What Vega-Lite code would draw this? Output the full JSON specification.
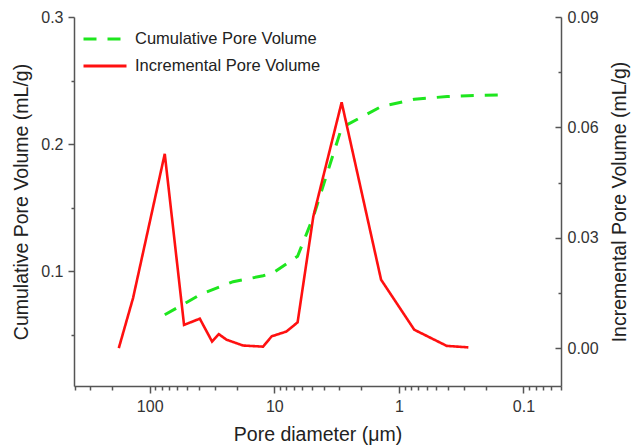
{
  "$schema": "https://vega.github.io/schema/vega-lite/v6.json",
  "width": 487,
  "height": 369,
  "autosize": "none",
  "padding": {"left": 74, "top": 17, "right": 70, "bottom": 62},
  "background": "white",
  "config": {
    "view": {"stroke": null},
    "font": "Liberation Sans",
    "axis": {
      "domainColor": "#555555",
      "domainWidth": 1.5,
      "tickColor": "#555555",
      "tickWidth": 1.5,
      "labelFont": "Liberation Sans",
      "labelFontSize": 16,
      "labelColor": "#333333",
      "titleFont": "Liberation Sans",
      "titleFontSize": 19.5,
      "titleFontWeight": "normal",
      "titleColor": "#222222",
      "grid": false,
      "labelOverlap": false
    }
  },
  "data": {
    "values": [
      {"d": 75.7, "v": 0.066, "s": "Cumulative Pore Volume"},
      {"d": 53, "v": 0.0745, "s": "Cumulative Pore Volume"},
      {"d": 39.6, "v": 0.0817, "s": "Cumulative Pore Volume"},
      {"d": 21.4, "v": 0.092, "s": "Cumulative Pore Volume"},
      {"d": 12.3, "v": 0.0966, "s": "Cumulative Pore Volume"},
      {"d": 10.2, "v": 0.099, "s": "Cumulative Pore Volume"},
      {"d": 6.5, "v": 0.112, "s": "Cumulative Pore Volume"},
      {"d": 4.86, "v": 0.143, "s": "Cumulative Pore Volume"},
      {"d": 2.88, "v": 0.213, "s": "Cumulative Pore Volume"},
      {"d": 1.39, "v": 0.2296, "s": "Cumulative Pore Volume"},
      {"d": 0.75, "v": 0.2354, "s": "Cumulative Pore Volume"},
      {"d": 0.41, "v": 0.2375, "s": "Cumulative Pore Volume"},
      {"d": 0.28, "v": 0.2382, "s": "Cumulative Pore Volume"},
      {"d": 0.155, "v": 0.2388, "s": "Cumulative Pore Volume"},
      {"d": 177, "v": 0.0, "s": "Incremental Pore Volume"},
      {"d": 136, "v": 0.0136, "s": "Incremental Pore Volume"},
      {"d": 75.7, "v": 0.0528, "s": "Incremental Pore Volume"},
      {"d": 53, "v": 0.0063, "s": "Incremental Pore Volume"},
      {"d": 39.6, "v": 0.008, "s": "Incremental Pore Volume"},
      {"d": 31.6, "v": 0.0018, "s": "Incremental Pore Volume"},
      {"d": 27.9, "v": 0.0038, "s": "Incremental Pore Volume"},
      {"d": 24.2, "v": 0.0023, "s": "Incremental Pore Volume"},
      {"d": 17.8, "v": 0.0007, "s": "Incremental Pore Volume"},
      {"d": 12.3, "v": 0.0004, "s": "Incremental Pore Volume"},
      {"d": 10.5, "v": 0.0032, "s": "Incremental Pore Volume"},
      {"d": 8.0, "v": 0.0045, "s": "Incremental Pore Volume"},
      {"d": 6.5, "v": 0.007, "s": "Incremental Pore Volume"},
      {"d": 4.86, "v": 0.0358, "s": "Incremental Pore Volume"},
      {"d": 2.88, "v": 0.0668, "s": "Incremental Pore Volume"},
      {"d": 1.39, "v": 0.0186, "s": "Incremental Pore Volume"},
      {"d": 0.753, "v": 0.005, "s": "Incremental Pore Volume"},
      {"d": 0.413, "v": 0.0006, "s": "Incremental Pore Volume"},
      {"d": 0.277, "v": 0.0002, "s": "Incremental Pore Volume"}
    ]
  },
  "encoding": {
    "x": {
      "field": "d",
      "type": "quantitative",
      "scale": {"type": "log", "domain": [0.05, 405], "reverse": true, "nice": false},
      "axis": {
        "title": "Pore diameter (μm)",
        "values": [400, 300, 200, 100, 90, 80, 70, 60, 50, 40, 30, 20, 10, 9, 8, 7, 6, 5, 4, 3, 2, 1, 0.9, 0.8, 0.7, 0.6, 0.5, 0.4, 0.3, 0.2, 0.1, 0.09, 0.08, 0.07, 0.06, 0.05],
        "labelExpr": "datum.value == 100 ? '100' : datum.value == 10 ? '10' : datum.value == 1 ? '1' : datum.value == 0.1 ? '0.1' : ''",
        "tickSize": {"condition": {"test": "datum.value == 100 || datum.value == 10 || datum.value == 1 || datum.value == 0.1", "value": 7}, "value": 4},
        "labelPadding": 5,
        "titlePadding": 11
      }
    },
    "color": {
      "field": "s",
      "type": "nominal",
      "scale": {"domain": ["Cumulative Pore Volume", "Incremental Pore Volume"], "range": ["#1ee61e", "#ff1010"]},
      "legend": {
        "orient": "none",
        "legendX": 8,
        "legendY": 12,
        "title": null,
        "padding": 0,
        "symbolType": "stroke",
        "symbolSize": 1849,
        "symbolStrokeWidth": 3,
        "labelFont": "Liberation Sans",
        "labelFontSize": 16.5,
        "labelColor": "#222222",
        "labelLimit": 400,
        "clipHeight": 20,
        "rowPadding": 7,
        "labelOffset": 7
      }
    },
    "strokeDash": {
      "field": "s",
      "type": "nominal",
      "scale": {"domain": ["Cumulative Pore Volume", "Incremental Pore Volume"], "range": [[13, 11], [1, 0]]},
      "legend": {
        "orient": "none",
        "legendX": 8,
        "legendY": 12,
        "title": null,
        "padding": 0,
        "symbolType": "stroke",
        "symbolSize": 1849,
        "symbolStrokeWidth": 3,
        "labelFont": "Liberation Sans",
        "labelFontSize": 16.5,
        "labelColor": "#222222",
        "labelLimit": 400,
        "clipHeight": 20,
        "rowPadding": 7,
        "labelOffset": 7
      }
    }
  },
  "layer": [
    {
      "transform": [{"filter": "datum.s == 'Cumulative Pore Volume'"}],
      "mark": {"type": "line", "strokeWidth": 3},
      "encoding": {
        "y": {
          "field": "v",
          "type": "quantitative",
          "scale": {"domain": [0.01, 0.3], "nice": false, "zero": false},
          "axis": {
            "orient": "left",
            "title": "Cumulative Pore Volume (mL/g)",
            "values": [0.05, 0.1, 0.15, 0.2, 0.25, 0.3],
            "format": ".1f",
            "labelExpr": "indexof([0.1, 0.2, 0.3], datum.value) >= 0 ? datum.label : ''",
            "tickSize": {"condition": {"test": "indexof([0.1, 0.2, 0.3], datum.value) >= 0", "value": 6}, "value": 3},
            "labelPadding": 5,
            "titlePadding": 9
          }
        }
      }
    },
    {
      "transform": [{"filter": "datum.s == 'Incremental Pore Volume'"}],
      "mark": {"type": "line", "strokeWidth": 2.6},
      "encoding": {
        "y": {
          "field": "v",
          "type": "quantitative",
          "scale": {"domain": [-0.0103, 0.09], "nice": false, "zero": false},
          "axis": {
            "orient": "right",
            "title": "Incremental Pore Volume (mL/g)",
            "titleAngle": 270,
            "titleBaseline": "top",
            "values": [0, 0.015, 0.03, 0.045, 0.06, 0.075, 0.09],
            "format": ".2f",
            "labelExpr": "indexof([0, 0.03, 0.06, 0.09], datum.value) >= 0 ? datum.label : ''",
            "tickSize": {"condition": {"test": "indexof([0, 0.03, 0.06, 0.09], datum.value) >= 0", "value": -6}, "value": -3},
            "labelPadding": 12,
            "titlePadding": 12
          }
        }
      }
    }
  ],
  "resolve": {"scale": {"y": "independent"}}
}
